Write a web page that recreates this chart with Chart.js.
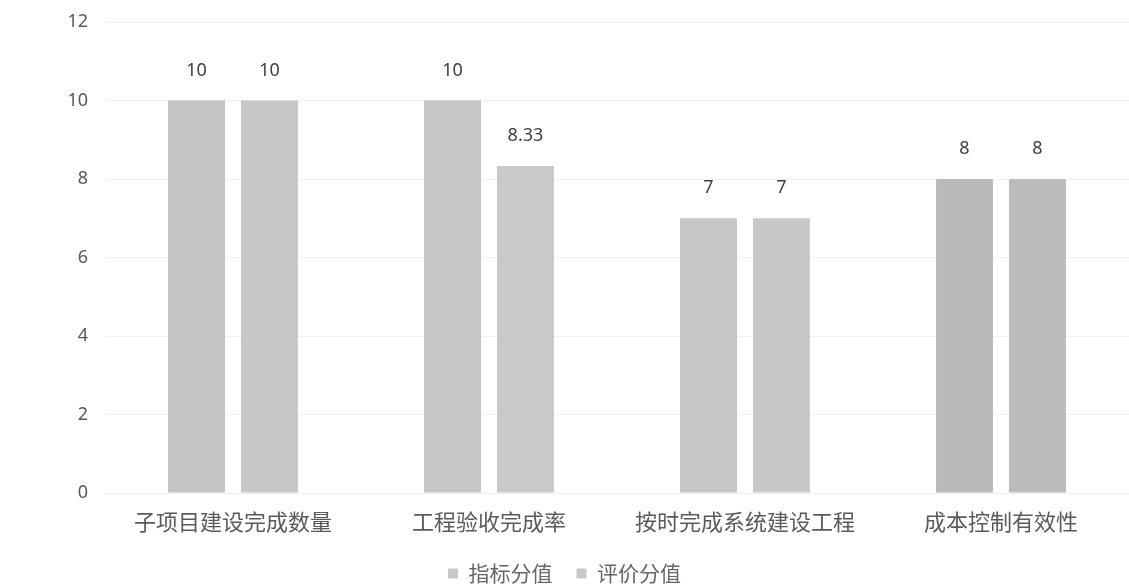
<!DOCTYPE html>
<html lang="zh">
<head>
  <meta charset="UTF-8">
  <title>指标分值与评价分值</title>
  <style>
    html, body { margin: 0; padding: 0; background: #fff; }
    #wrap { width: 1129px; height: 587px; position: relative; }
  </style>
</head>
<body>
  <div id="wrap"><canvas id="chart"></canvas></div>

  <script src="https://cdn.jsdelivr.net/npm/chart.js"></script>
  <script>
    // data
    const categories = ['子项目建设完成数量', '工程验收完成率', '按时完成系统建设工程', '成本控制有效性'];
    const indexScores = [10, 10, 7, 8];   // 指标分值
    const evalScores = [10, 8.33, 7, 8];  // 评价分值
    const yTicks = [0, 2, 4, 6, 8, 10, 12];

    const sansFont = '"Noto Sans", "Open Sans", sans-serif';
    const cjkFont = '"Noto Sans CJK SC", sans-serif';

    // draw the value above each bar
    const valueLabels = {
      id: 'valueLabels',
      afterDatasetsDraw(chart) {
        const ctx = chart.ctx;
        ctx.save();
        ctx.font = '18px ' + sansFont;
        ctx.fillStyle = '#404040';
        ctx.textAlign = 'center';
        ctx.textBaseline = 'middle';
        chart.data.datasets.forEach((ds, i) => {
          chart.getDatasetMeta(i).data.forEach((bar, j) => {
            ctx.fillText(String(ds.data[j]), bar.x, bar.y - 30);
          });
        });
        ctx.restore();
      }
    };

    new Chart(document.getElementById('chart'), {
      type: 'bar',
      data: {
        labels: categories,
        datasets: [
          {
            label: '指标分值',
            data: indexScores,
            backgroundColor: ['#c4c4c4', '#c6c6c6', '#c6c6c6', '#bababa'],
            categoryPercentage: 0.57,
            barPercentage: 0.78
          },
          {
            label: '评价分值',
            data: evalScores,
            backgroundColor: ['#c7c7c7', '#c9c9c9', '#c8c8c8', '#bcbcbc'],
            categoryPercentage: 0.57,
            barPercentage: 0.78
          }
        ]
      },
      options: {
        responsive: true,
        maintainAspectRatio: false,
        animation: false,
        layout: { padding: { top: 22, right: 0, left: 0, bottom: -7 } },
        plugins: {
          legend: {
            position: 'bottom',
            labels: {
              boxWidth: 10,
              boxHeight: 10,
              padding: 24,
              color: '#666',
              font: { family: cjkFont, size: 21 },
              generateLabels(chart) {
                return chart.data.datasets.map((ds, i) => ({
                  text: ds.label,
                  fillStyle: '#c8c8c8',
                  strokeStyle: '#c8c8c8',
                  lineWidth: 0,
                  datasetIndex: i,
                  fontColor: '#666'
                }));
              }
            }
          },
          tooltip: { enabled: false }
        },
        scales: {
          x: {
            afterFit(scale) { scale.height = 46; },
            grid: { display: false },
            border: { display: true, color: '#eeeeee' },
            ticks: {
              color: '#5a5a5a',
              padding: 7,
              font: { family: cjkFont, size: 22 }
            }
          },
          y: {
            min: 0,
            max: 12,
            afterBuildTicks(scale) {
              scale.ticks = yTicks.map(v => ({ value: v }));
            },
            afterFit(scale) {
              scale.width = 105;
              scale.paddingTop = 0;
              scale.paddingBottom = 0;
            },
            grid: { color: '#f0f0f0', drawTicks: false },
            border: { display: false },
            ticks: {
              color: '#595959',
              padding: 17,
              font: { family: sansFont, size: 18 }
            }
          }
        }
      },
      plugins: [valueLabels]
    });
  </script>
</body>
</html>
